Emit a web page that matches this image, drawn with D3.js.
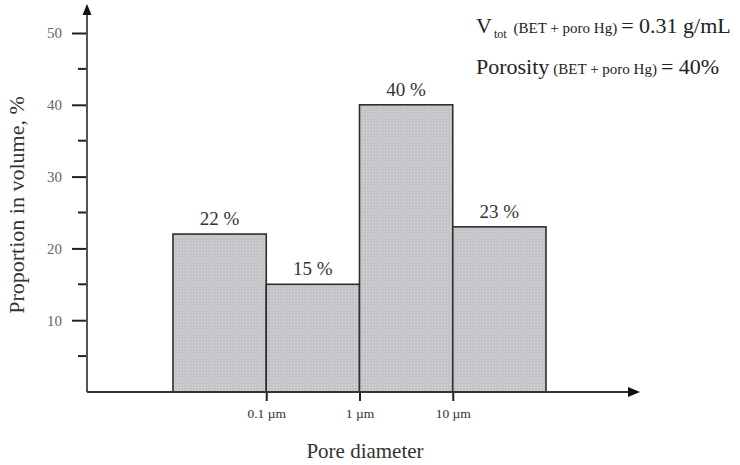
<!DOCTYPE html>
<head>
    <title>Pore diameter distribution</title>
    <meta charset="utf-8" />
</head>

<style>
    body {
        margin: 0;
        background: #fff;
    }

    text {
        font-family: "Liberation Serif", "Times New Roman", serif;
    }

    .bar {
        fill: url(#dots);
        stroke: #2e2e2e;
        stroke-width: 1.6px;
    }

    .axis path,
    .axis line {
        fill: none;
        stroke: #222;
        stroke-width: 2px;
    }
</style>

<body>
    <svg id="chart" width="740" height="465"></svg>

    <script src="https://d3js.org/d3.v7.min.js"></script>

    <script>
        // data
        var edges = [0.01, 0.1, 1, 10, 100]; // bin boundaries, µm
        var values = [22, 15, 40, 23];
        var valueLabels = ["22 %", "15 %", "40 %", "23 %"];
        var xTicks = [0.1, 1, 10];
        var xTickLabels = ["0.1 µm", "1 µm", "10 µm"];
        var yMajor = [10, 20, 30, 40, 50];
        var yMinor = [5, 15, 25, 35, 45];

        var svg = d3.select("#chart");

        // dotted gray fill like the scanned figure
        var defs = svg.append("defs");
        var pat = defs.append("pattern")
            .attr("id", "dots")
            .attr("patternUnits", "userSpaceOnUse")
            .attr("width", 3)
            .attr("height", 3);
        pat.append("rect").attr("width", 3).attr("height", 3).attr("fill", "#c5c5c7");
        pat.append("rect").attr("width", 1).attr("height", 1).attr("fill", "#d6d6e4");

        var axisX = 87,
            baseY = 392;

        var x = d3.scaleLog().domain([0.01, 100]).range([173, 546]);
        var y = d3.scaleLinear().domain([0, 50]).range([baseY, 33]);

        // bars
        var bins = values.map(function(v, i) {
            return { x0: edges[i], x1: edges[i + 1], v: v, label: valueLabels[i] };
        });

        svg.selectAll(".bar")
            .data(bins)
            .enter().append("rect")
            .attr("class", "bar")
            .attr("x", function(d) { return x(d.x0); })
            .attr("y", function(d) { return y(d.v); })
            .attr("width", function(d) { return x(d.x1) - x(d.x0); })
            .attr("height", function(d) { return baseY - y(d.v); });

        svg.selectAll(".label")
            .data(bins)
            .enter().append("text")
            .attr("class", "label")
            .attr("x", function(d) { return (x(d.x0) + x(d.x1)) / 2; })
            .attr("y", function(d) { return y(d.v) - 9; })
            .attr("text-anchor", "middle")
            .attr("font-size", "19px")
            .attr("fill", "#333")
            .text(function(d) { return d.label; });

        // y axis
        var yAxis = d3.axisLeft(y).tickValues(yMajor).tickSize(15).tickPadding(10);
        var gy = svg.append("g")
            .attr("class", "axis")
            .attr("transform", "translate(" + axisX + ",0)")
            .call(yAxis);
        gy.select(".domain").remove();
        gy.selectAll("text").attr("fill", "#666").style("font-size", "15px");

        svg.append("g")
            .attr("class", "axis")
            .selectAll("line")
            .data(yMinor)
            .enter().append("line")
            .attr("x1", axisX - 9)
            .attr("x2", axisX)
            .attr("y1", function(d) { return y(d); })
            .attr("y2", function(d) { return y(d); });

        // x axis ticks
        var xAxis = d3.axisBottom(x)
            .tickValues(xTicks)
            .tickSize(9)
            .tickPadding(7)
            .tickFormat(function(d, i) { return xTickLabels[i]; });
        var gx = svg.append("g")
            .attr("class", "axis")
            .attr("transform", "translate(0," + baseY + ")")
            .call(xAxis);
        gx.select(".domain").remove();
        gx.selectAll("text").attr("fill", "#333").style("font-size", "13.5px");

        // axis lines with arrows
        svg.append("line")
            .attr("x1", axisX).attr("y1", baseY)
            .attr("x2", axisX).attr("y2", 10)
            .attr("stroke", "#555").attr("stroke-width", 2);
        svg.append("line")
            .attr("x1", axisX).attr("y1", baseY)
            .attr("x2", 632).attr("y2", baseY)
            .attr("stroke", "#333").attr("stroke-width", 2);
        svg.append("path")
            .attr("d", "M" + axisX + ",4 L" + (axisX - 4.5) + ",15 L" + (axisX + 4.5) + ",15 Z")
            .attr("fill", "#111");
        svg.append("path")
            .attr("d", "M640," + baseY + " L628," + (baseY - 5) + " L628," + (baseY + 5) + " Z")
            .attr("fill", "#111");

        // axis titles
        svg.append("text")
            .attr("transform", "translate(24,205) rotate(-90)")
            .attr("text-anchor", "middle")
            .attr("font-size", "22px")
            .attr("fill", "#333")
            .text("Proportion in volume, %");

        svg.append("text")
            .attr("x", 365)
            .attr("y", 458)
            .attr("text-anchor", "middle")
            .attr("font-size", "21px")
            .attr("fill", "#333")
            .text("Pore diameter");

        // annotation
        var note1 = svg.append("text")
            .attr("x", 476)
            .attr("y", 33)
            .attr("font-size", "22px")
            .attr("fill", "#222");
        note1.append("tspan").text("V");
        note1.append("tspan").attr("font-size", "12px").attr("dy", 5).attr("dx", 2).text("tot");
        note1.append("tspan").attr("font-size", "15px").attr("dy", -5).attr("dx", 7).text("(BET + poro Hg)");
        note1.append("tspan").attr("dx", 4).text("= 0.31 g/mL");

        var note2 = svg.append("text")
            .attr("x", 476)
            .attr("y", 74)
            .attr("font-size", "22px")
            .attr("fill", "#222");
        note2.append("tspan").text("Porosity");
        note2.append("tspan").attr("font-size", "15px").attr("dx", 4).text("(BET + poro Hg)");
        note2.append("tspan").attr("dx", 4).text("= 40%");
    </script>
</body>
